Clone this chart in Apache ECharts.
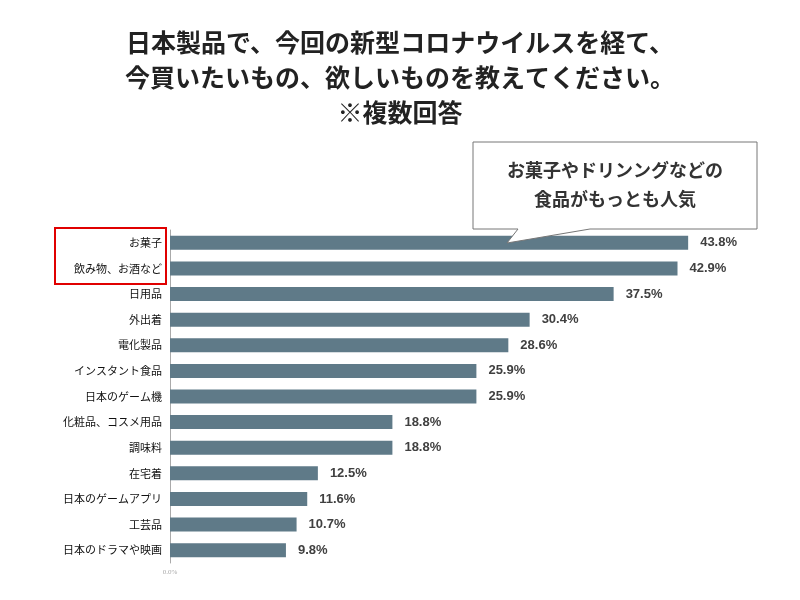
<!DOCTYPE html>
<html><head><meta charset="utf-8">
<script src="https://cdn.jsdelivr.net/npm/echarts@6/dist/echarts.min.js"></script>
<style>html,body{margin:0;padding:0;background:#fff}#c{width:800px;height:600px}</style>
</head><body><div id="c"></div>
<script>
const categories = ['お菓子','飲み物、お酒など','日用品','外出着','電化製品','インスタント食品','日本のゲーム機','化粧品、コスメ用品','調味料','在宅着','日本のゲームアプリ','工芸品','日本のドラマや映画'];
const values = [43.8,42.9,37.5,30.4,28.6,25.9,25.9,18.8,18.8,12.5,11.6,10.7,9.8];
const titleLines = ['日本製品で、今回の新型コロナウイルスを経て、','今買いたいもの、欲しいものを教えてください。','※複数回答'];
const calloutLines = ['お菓子やドリンングなどの','食品がもっとも人気'];

const font = '"Noto Sans CJK JP", "Noto Sans", sans-serif';
const chart = echarts.init(document.getElementById('c'));
chart.setOption({
  backgroundColor:'#fff',
  animation:false,
  title:{
    text: titleLines.join('\n'),
    left:'center', top:20,
    textStyle:{fontFamily:font,fontSize:25,fontWeight:'bold',color:'#222',lineHeight:35}
  },
  grid:{left:170,top:230,width:591.5,height:333},
  xAxis:{
    type:'value',min:0,max:50,interval:50,
    splitLine:{show:false},axisLine:{show:false},axisTick:{show:false},
    axisLabel:{formatter:v=>v===0?'0.0%':'',color:'#aaa',fontSize:7,margin:6,fontFamily:'serif'}
  },
  yAxis:{
    type:'category',data:categories,inverse:true,
    axisLine:{show:true,lineStyle:{color:'#aaa',width:1}},
    axisTick:{show:false},
    axisLabel:{color:'#111',fontSize:11,fontFamily:font,margin:8}
  },
  series:[{
    type:'bar',data:values,barWidth:14,
    itemStyle:{color:'#5f7a88'},
    label:{show:true,position:'right',distance:12,formatter:p=>p.value.toFixed(1)+'%',
      color:'#404040',fontSize:13,fontWeight:'bold',fontFamily:'"Liberation Sans", Arial, sans-serif'}
  }],
  graphic:[
    {type:'rect',shape:{x:55,y:228,width:111,height:56},style:{fill:'none',stroke:'#e00000',lineWidth:2},z:100},
    {type:'polygon',shape:{points:[[473,142],[757,142],[757,229],[590,229],[507,243],[518,229],[473,229]]},
      style:{fill:'#fff',stroke:'#777',lineWidth:1},z:100},
    {type:'text',z:101,style:{text:calloutLines.join('\n'),x:615,y:156,textAlign:'center',
      font:'bold 18px '+font,lineHeight:29,fill:'#333'}}
  ]
});
</script></body></html>
